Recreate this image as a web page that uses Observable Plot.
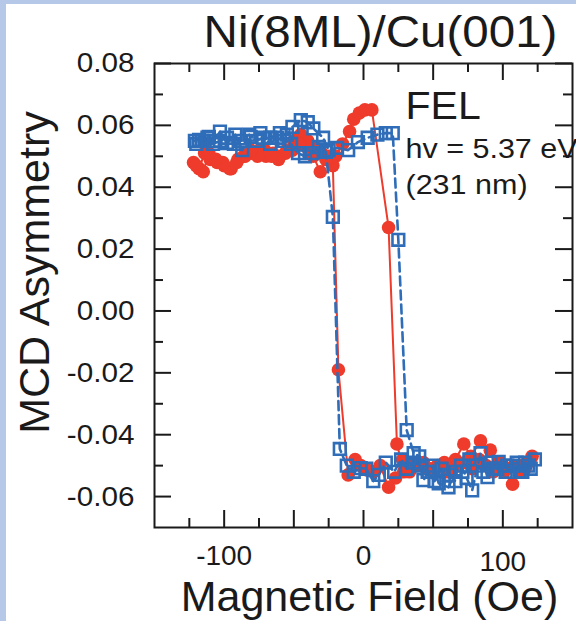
<!DOCTYPE html>
<html>
<head>
<meta charset="utf-8">
<script src="https://cdn.jsdelivr.net/npm/d3@7"></script>
<script src="https://cdn.jsdelivr.net/npm/@observablehq/plot@0.6"></script>
<style>
  html, body { margin: 0; padding: 0; }
  body {
    width: 576px; height: 621px; overflow: hidden;
    background:
      linear-gradient(to right, #b5c8e8 0, #b5c8e8 6px, transparent 6px),
      linear-gradient(to bottom, #b5c8e8 0, #b5c8e8 4px, #ffffff 4px);
  }
  #chart svg { display: block; }
</style>
</head>
<body>
<div id="chart"></div>
<script>
// ---- Data ----
const titleText = "Ni(8ML)/Cu(001)";
const xLabel = "Magnetic Field (Oe)";
const yLabel = "MCD Asymmetry";
const annoFEL = "FEL";
const annoLines = ["hv = 5.37 eV", "(231 nm)"];

const xMajorTicks = [-100, -50, 0, 50, 100];
const xMinorTicks = [-125, -75, -25, 25, 75, 125];
const xTickLabelsA = [-100, 0];
const xTickLabelsB = [100];
const yMajorTicks = [-0.06, -0.04, -0.02, 0.00, 0.02, 0.04, 0.06, 0.08];
const yMinorTicks = [-0.05, -0.03, -0.01, 0.01, 0.03, 0.05, 0.07];
const yTickLabels = ["-0.06", "-0.04", "-0.02", "0.00", "0.02", "0.04", "0.06", "0.08"];

// Red series (filled circles, solid line): field sweep up then down
const redField = [
  -122, -118, -114, -110, -105, -100, -95, -90, -85, -80, -75, -70, -65, -60, -55, -50, -45, -40, -35, -30,
  -25, -20, -15, -10, -7, -3, 1, 6, 18, 24, 29, 35, 40, 45, 50, 55, 60, 66, 72, 77, 84, 91, 96, 101, 107, 112, 116, 121,
  118, 113, 108, 103, 98, 93, 88, 83, 78, 73, 68, 63, 58, 53, 48, 43, 38, 33, 28, 23, 18, 12, 7, 3, -2, -6, -11,
  -18, -22, -27, -31, -36, -41, -46, -51, -56, -61, -66, -71, -76, -81, -86, -91, -96, -101, -106, -111, -115, -120
];
const redMCD = [
  0.048, 0.046, 0.051, 0.049, 0.048, 0.047, 0.046, 0.049, 0.050, 0.051, 0.052, 0.050, 0.051, 0.050, 0.052, 0.055, 0.057, 0.055, 0.053, 0.051,
  0.050, 0.050, 0.054, 0.058, 0.062, 0.064, 0.065, 0.065, 0.027, -0.043, -0.052, -0.050, -0.049, -0.051, -0.052, -0.050, -0.052, -0.048, -0.043, -0.047, -0.042, -0.045, -0.050, -0.052, -0.056, -0.050, -0.051, -0.047,
  -0.049, -0.052, -0.050, -0.051, -0.049, -0.052, -0.050, -0.048, -0.051, -0.049, -0.050, -0.051, -0.049, -0.050, -0.051, -0.049, -0.050, -0.052, -0.048, -0.054, -0.057, -0.050, -0.052, -0.0515, -0.050, -0.048, -0.053,
  -0.019, 0.047, 0.049, 0.045, 0.050, 0.053, 0.054, 0.052, 0.051, 0.049, 0.050, 0.052, 0.050, 0.052, 0.050, 0.048, 0.046, 0.048, 0.049, 0.051, 0.045, 0.047
];

// Blue series (open squares, dashed line): field sweep up then down
const blueField = [
  -121, -118, -114, -111, -107, -103, -98, -92, -87, -81, -74, -67, -60, -55, -51, -45, -40, -36, -29, -25,
  -19, -11, -4, 3, 10, 16, 21, 25, 31, 36, 40, 43, 50, 54, 61, 66, 70, 74, 78, 84, 89, 93, 97, 103, 110, 114, 118, 123,
  120, 116, 112, 107, 102, 96, 91, 86, 81, 76, 71, 66, 61, 56, 51, 46, 41, 36, 31, 27, 22, 16, 11, 7, 2, -2, -7, -12,
  -17, -22, -27, -32, -37, -42, -47, -52, -57, -62, -67, -72, -77, -82, -88, -93, -98, -103, -108, -112, -116, -120
];
const blueMCD = [
  0.055, 0.0553, 0.055, 0.0563, 0.055, 0.058, 0.0543, 0.057, 0.052, 0.0563, 0.0575, 0.056, 0.0575, 0.057, 0.0595, 0.0617, 0.061, 0.059, 0.056, 0.052,
  0.0527, 0.052, 0.0546, 0.056, 0.057, 0.0575, 0.0575, 0.023, -0.0385, -0.046, -0.047, -0.0547, -0.050, -0.0557, -0.057, -0.052, -0.050, -0.054, -0.058, -0.046, -0.0537, -0.051, -0.0488, -0.050, -0.049, -0.052, -0.050, -0.048,
  -0.051, -0.049, -0.052, -0.050, -0.052, -0.051, -0.049, -0.052, -0.050, -0.048, -0.052, -0.055, -0.053, -0.051, -0.055, -0.052, -0.050, -0.049, -0.051, -0.048, -0.052, -0.049, -0.053, -0.055, -0.051, -0.0508, -0.052, -0.050,
  -0.0446, 0.0304, 0.0514, 0.053, 0.051, 0.050, 0.051, 0.054, 0.055, 0.056, 0.054, 0.056, 0.055, 0.057, 0.055, 0.054, 0.056, 0.055, 0.054, 0.056, 0.055, 0.054
];

// ---- Build tables ----
const red = redField.map((x, i) => ({x, y: redMCD[i]}));
const blue = blueField.map((x, i) => ({x, y: blueMCD[i]}));
const yLabelRows = yMajorTicks.map((v, i) => ({v, t: yTickLabels[i]}));

const RED = "#ee3b2b";
const BLUE = "#2f6db8";
const INK = "#1a1a1a";
const FONT = "Liberation Sans, Arial, Helvetica, sans-serif";

const W = 576, H = 621;
const mL = 154, mR = 4, mT = 63, mB = 94;
const fw = W - mL - mR, fh = H - mT - mB;
const majorLen = 17, minorLen = 9;

const chart = Plot.plot({
  width: W,
  height: H,
  marginLeft: mL,
  marginRight: mR,
  marginTop: mT,
  marginBottom: mB,
  style: {background: "transparent", fontFamily: FONT, color: INK, overflow: "visible"},
  x: {domain: [-150, 150], axis: null},
  y: {domain: [-0.07, 0.08], axis: null},
  marks: [
    // inward ticks on all four sides
    Plot.tickX(xMajorTicks, {x: d => d, insetTop: fh - majorLen, stroke: INK, strokeWidth: 2}),
    Plot.tickX(xMinorTicks, {x: d => d, insetTop: fh - minorLen, stroke: INK, strokeWidth: 2}),
    Plot.tickX(xMajorTicks, {x: d => d, insetBottom: fh - majorLen, stroke: INK, strokeWidth: 2}),
    Plot.tickX(xMinorTicks, {x: d => d, insetBottom: fh - minorLen, stroke: INK, strokeWidth: 2}),
    Plot.tickY(yMajorTicks, {y: d => d, insetRight: fw - majorLen, stroke: INK, strokeWidth: 2}),
    Plot.tickY(yMinorTicks, {y: d => d, insetRight: fw - minorLen, stroke: INK, strokeWidth: 2}),
    Plot.tickY(yMajorTicks, {y: d => d, insetLeft: fw - majorLen, stroke: INK, strokeWidth: 2}),
    Plot.tickY(yMinorTicks, {y: d => d, insetLeft: fw - minorLen, stroke: INK, strokeWidth: 2}),
    Plot.frame({stroke: INK, strokeWidth: 2}),

    // red series
    Plot.line(red, {x: "x", y: "y", stroke: RED, strokeWidth: 2}),
    Plot.dot(red, {x: "x", y: "y", r: 6.8, fill: RED, stroke: "none"}),

    // blue series
    Plot.line(blue, {x: "x", y: "y", stroke: BLUE, strokeWidth: 2.6, strokeDasharray: "9,5"}),
    Plot.dot(blue, {x: "x", y: "y", symbol: "square", r: 6.6, fill: "none", stroke: BLUE, strokeWidth: 2.6}),

    // tick labels
    Plot.text(yLabelRows, {y: "v", text: "t", frameAnchor: "left", dx: -20, textAnchor: "end", lineAnchor: "middle", fontSize: 28, fill: INK}),
    Plot.text(xTickLabelsA, {x: d => d, text: d => String(d), frameAnchor: "bottom", dy: 37, textAnchor: "middle", lineAnchor: "bottom", fontSize: 28, fill: INK}),
    Plot.text(xTickLabelsB, {x: d => d, text: d => String(d), frameAnchor: "bottom", dy: 43, textAnchor: "middle", lineAnchor: "bottom", fontSize: 28, fill: INK}),

    // axis titles and title
    Plot.text([xLabel], {text: d => d, frameAnchor: "bottom", dx: 6, dy: 83, textAnchor: "middle", lineAnchor: "bottom", fontSize: 43, fill: INK}),
    Plot.text([yLabel], {text: d => d, frameAnchor: "left", rotate: -90, dx: -106, dy: -23, textAnchor: "middle", lineAnchor: "bottom", fontSize: 43, fill: INK}),
    Plot.text([titleText], {text: d => d, frameAnchor: "top", dx: 17, dy: -17, textAnchor: "middle", lineAnchor: "bottom", fontSize: 44, fill: INK}),

    // annotations
    Plot.text([annoFEL], {text: d => d, frameAnchor: "top-left", dx: 251, dy: 55, textAnchor: "start", lineAnchor: "bottom", fontSize: 38, fill: INK}),
    Plot.text([annoLines[0]], {text: d => d, frameAnchor: "top-left", dx: 251, dy: 94, textAnchor: "start", lineAnchor: "bottom", fontSize: 28, fill: INK}),
    Plot.text([annoLines[1]], {text: d => d, frameAnchor: "top-left", dx: 251, dy: 130, textAnchor: "start", lineAnchor: "bottom", fontSize: 28, fill: INK})
  ]
});

// The reference lettering is slightly wider than Arial: stretch some texts horizontally.
const stretch = new Map([
  [titleText, 1.08], [annoFEL, 1.08], [annoLines[0], 1.09], [annoLines[1], 1.09]
]);
yTickLabels.forEach(t => stretch.set(t, 1.06));
d3.select(chart).selectAll("text").each(function () {
  const k = stretch.get(this.textContent);
  if (k) {
    const t = this.getAttribute("transform") || "";
    this.setAttribute("transform", `${t} scale(${k},1)`);
  }
});
document.getElementById("chart").appendChild(chart);
</script>
</body>
</html>
